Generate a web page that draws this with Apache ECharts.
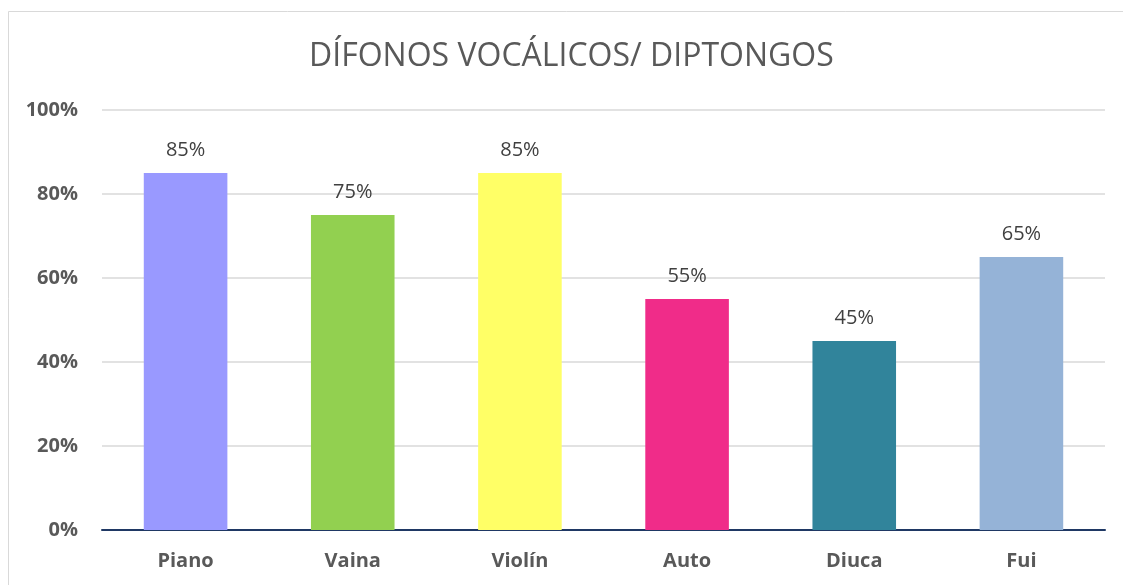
<!DOCTYPE html>
<html>
<head>
<meta charset="utf-8">
<script src="https://cdn.jsdelivr.net/npm/echarts@6/dist/echarts.min.js"></script>
<style>
  html, body { margin: 0; padding: 0; background: #fff; }
  #chart { width: 1123px; height: 585px; }
</style>
</head>
<body>
<div id="chart"></div>
<script>
// datos del gráfico
var categories = ['Piano', 'Vaina', 'Violín', 'Auto', 'Diuca', 'Fui'];
var values = [0.85, 0.75, 0.85, 0.55, 0.45, 0.65];
var barColors = ['#9999FF', '#92D050', '#FFFF66', '#F02C89', '#31849B', '#95B3D7'];

var myChart = echarts.init(document.getElementById('chart'));

var seriesData = [];
for (var i = 0; i < values.length; i++) {
	seriesData.push({ value: values[i], itemStyle: { color: barColors[i] } });
}

var option = {
	animation: false,
	backgroundColor: '#ffffff',
	title: {
		text: 'DÍFONOS VOCÁLICOS/ DIPTONGOS',
		left: 304,
		top: 36,
		textStyle: {
			fontFamily: 'Open Sans',
			fontWeight: 'normal',
			fontSize: 32,
			color: '#595959'
		}
	},
	graphic: [{
		type: 'rect',
		shape: { x: 8.5, y: 11.5, width: 1200, height: 700 },
		style: { fill: 'none', stroke: '#D9D9D9', lineWidth: 1 },
		silent: true
	}],
	grid: {
		left: 102,
		right: 18,
		top: 110,
		bottom: 55
	},
	xAxis: {
		type: 'category',
		data: categories,
		axisTick: { show: false },
		axisLine: { lineStyle: { color: '#1F3864', width: 2 } },
		axisLabel: {
			margin: 21,
			fontFamily: 'Open Sans',
			fontWeight: 'bold',
			fontSize: 20,
			color: '#595959'
		}
	},
	yAxis: {
		type: 'value',
		min: 0,
		max: 1,
		interval: 0.2,
		axisLine: { show: false },
		axisTick: { show: false },
		splitLine: { lineStyle: { color: '#D9D9D9', width: 1.5 } },
		axisLabel: {
			margin: 24,
			fontFamily: 'Open Sans',
			fontWeight: 'bold',
			fontSize: 20,
			color: '#595959',
			formatter: function (v) { return Math.round(v * 100) + '%'; }
		}
	},
	series: [{
		type: 'bar',
		data: seriesData,
		barWidth: '50%',
		label: {
			show: true,
			position: 'top',
			distance: 13,
			fontFamily: 'Open Sans',
			fontSize: 20,
			color: '#404040',
			formatter: function (p) { return Math.round(p.value * 100) + '%'; }
		}
	}]
};

myChart.setOption(option, true);
</script>
</body>
</html>
